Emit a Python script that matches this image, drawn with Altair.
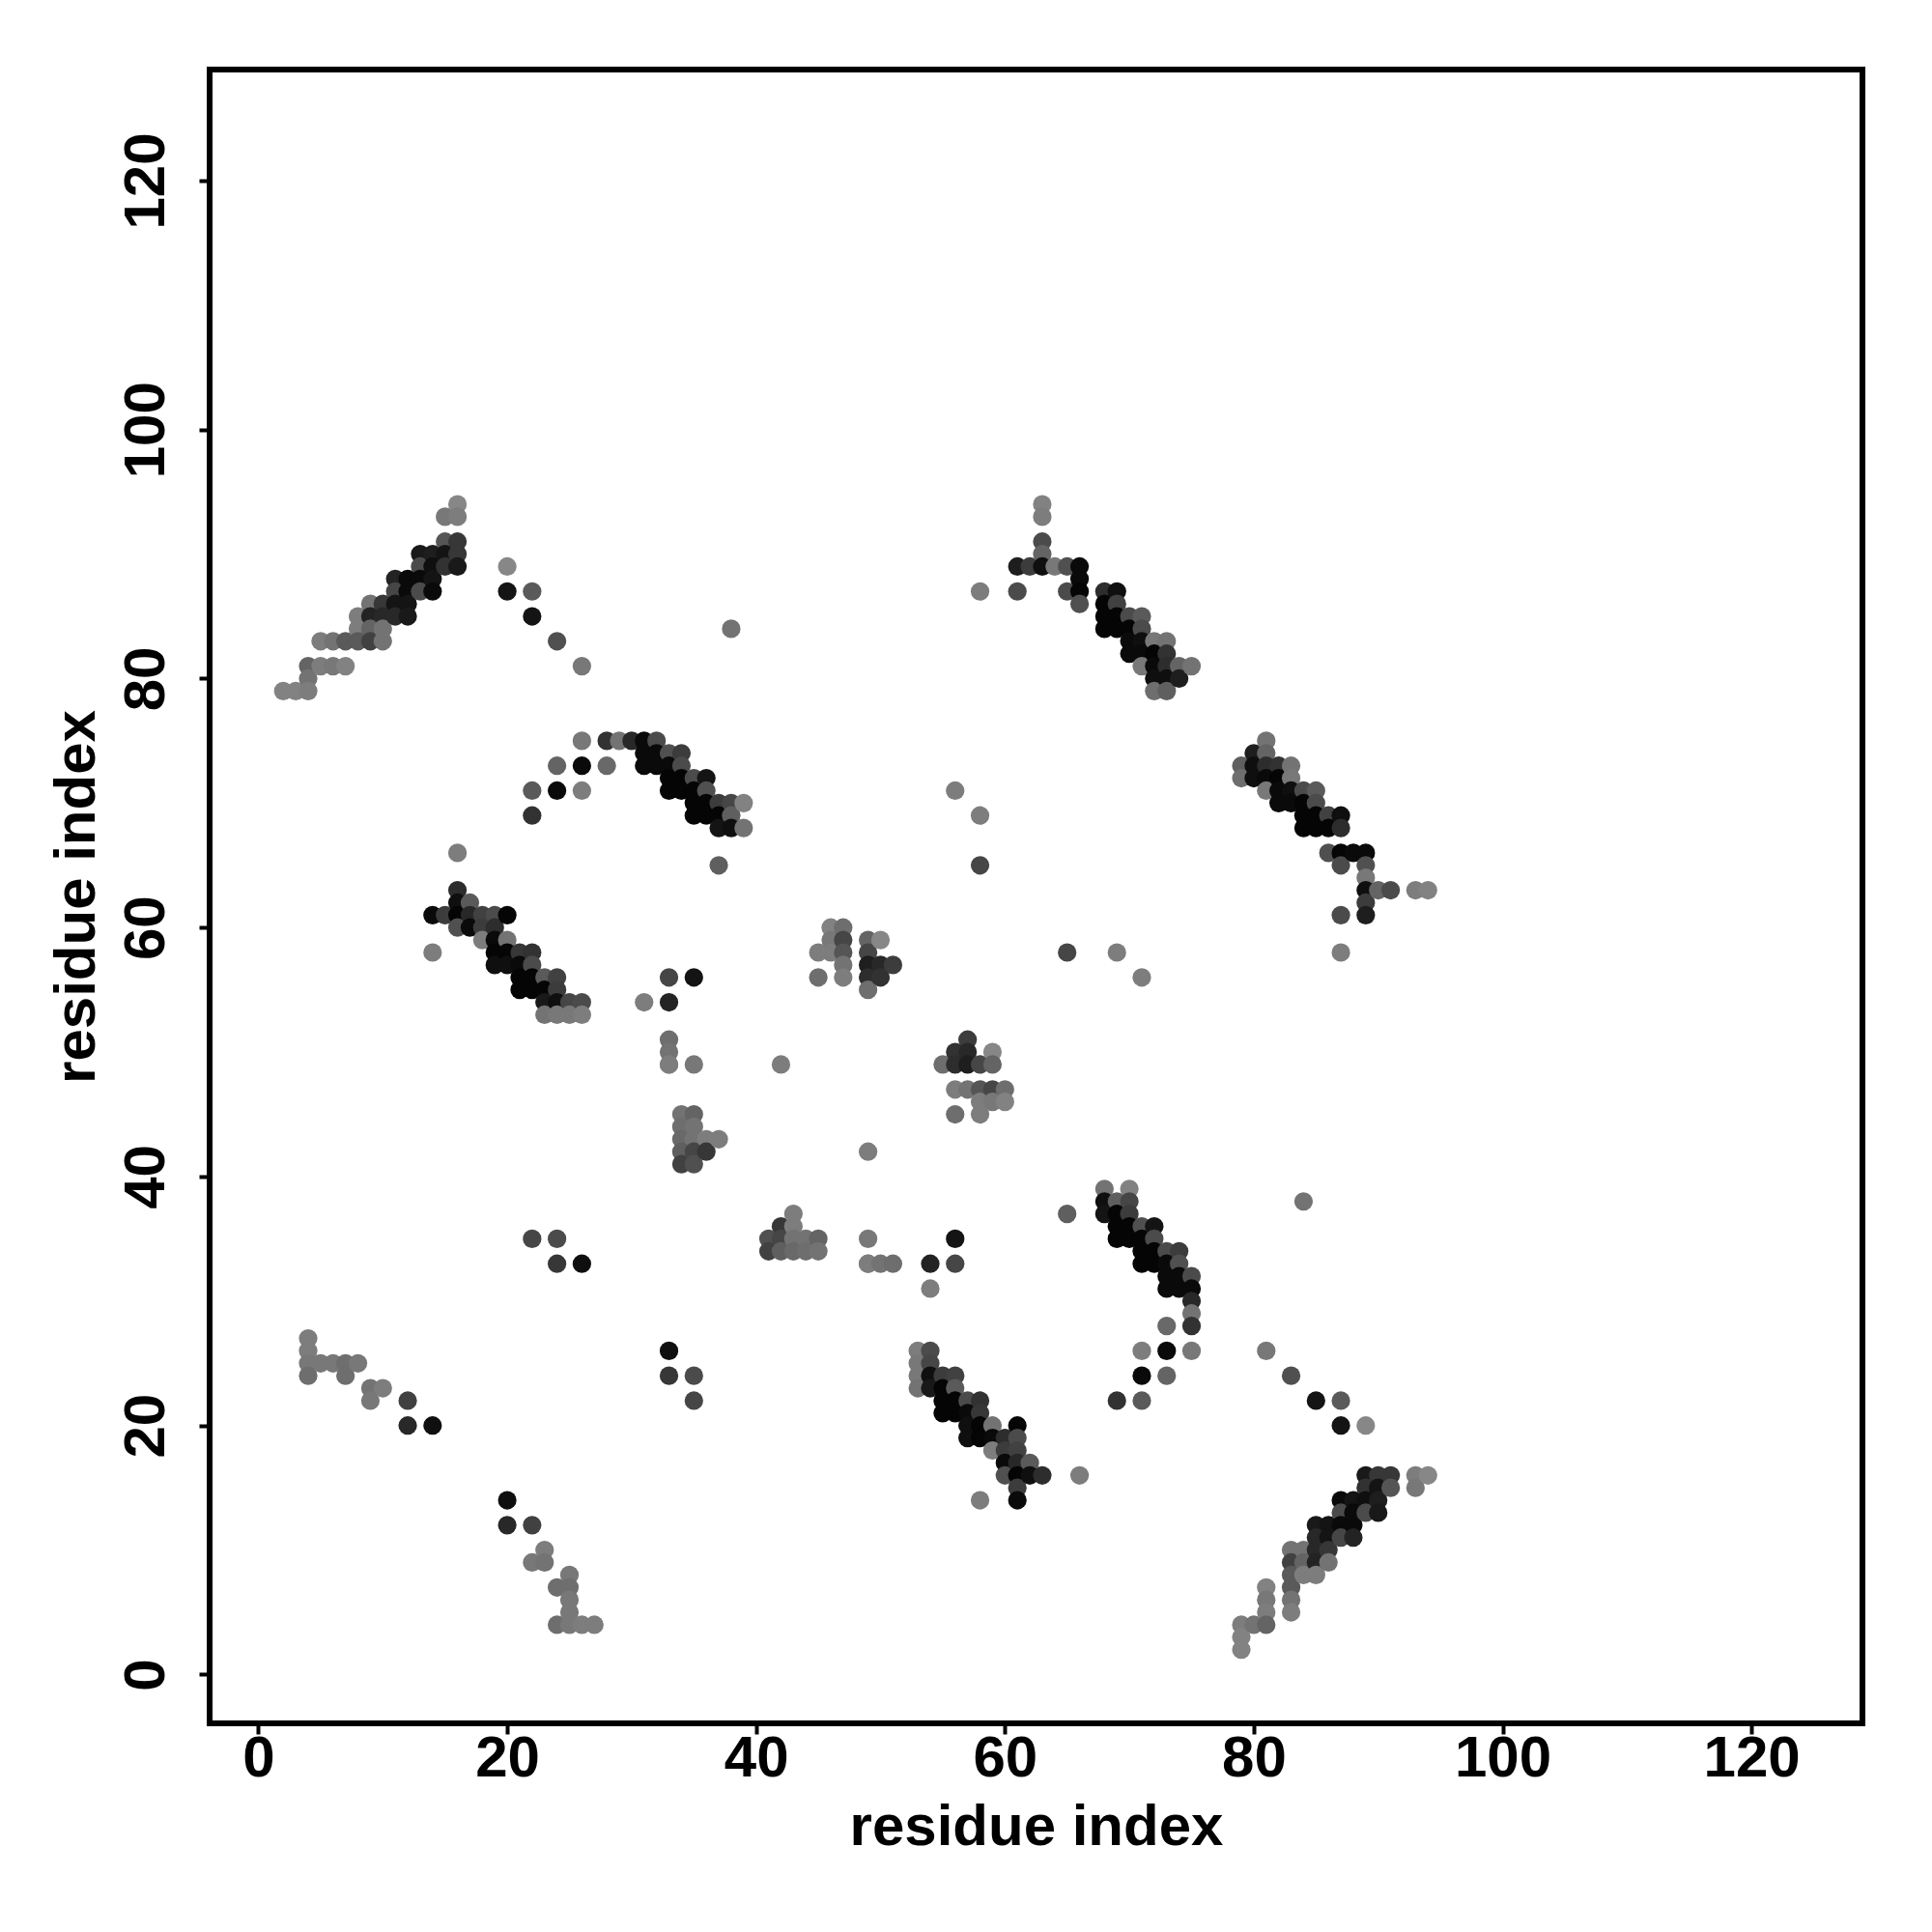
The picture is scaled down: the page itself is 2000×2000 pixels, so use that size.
import altair as alt
import pandas as pd

# Contact map: points above the diagonal (the map is symmetric), with their grey level
upper_x = [16, 15, 16, 15, 16,
           13, 14, 15, 16, 13, 14, 15, 16, 11, 12, 13, 14, 11, 12, 13, 14,
           9, 10, 11, 12, 8, 9, 10, 11, 12, 8, 9, 10,
           5, 6, 7, 8, 9, 10, 4, 5, 6, 7, 4, 2, 3, 4,
           20, 20, 22, 22, 24, 26,
           26, 28, 29, 30, 31, 32, 31, 32, 33, 34,
           24, 26, 28, 31, 32, 33, 34, 33, 34, 35, 36,
           22, 24, 26, 33, 34, 35, 36, 35, 36, 37, 38, 39,
           22, 35, 36, 37, 38, 37, 38, 39, 37,
           16, 16, 16, 17, 14, 15, 16, 17, 18, 19, 20, 16, 17, 18, 19,
           18, 19, 20, 14, 19, 20, 21, 22, 19, 20, 21, 22,
           21, 22, 23, 24, 21, 22, 23, 24, 23, 24, 25, 26, 23, 24, 25, 26,
           31, 33, 33, 35, 33, 33, 33, 33, 35, 42,
           46, 47, 46, 47, 49, 50, 45, 46, 47, 49, 47, 49, 50, 51, 45, 47, 49, 50, 49,
           34, 35, 34, 35, 34, 35, 36, 37, 34, 35, 36, 34, 35,
           63, 63, 63, 63, 61, 62, 63, 64, 65, 66, 66, 61, 65, 66, 66,
           68, 69, 68, 69, 68, 69, 70, 71, 68, 69, 70, 71,
           70, 71, 72, 73, 70, 71, 72, 73, 71, 72, 73, 74, 75,
           72, 73, 74, 72, 73,
           58, 56, 58, 58, 38, 22, 24, 24, 26,
           4, 4, 4, 4, 5, 6, 7, 7, 8, 9, 9, 10, 12, 12, 14]
upper_y = [94, 93, 93, 91, 91,
           90, 90, 90, 90, 89, 89, 89, 89, 88, 88, 88, 88, 87, 87, 87, 87,
           86, 86, 86, 86, 85, 85, 85, 85, 85, 84, 84, 84,
           83, 83, 83, 83, 83, 83, 81, 81, 81, 81, 80, 79, 79, 79,
           89, 87, 87, 85, 83, 81,
           75, 75, 75, 75, 75, 75, 74, 74, 74, 74,
           73, 73, 73, 73, 73, 73, 73, 72, 72, 72, 72,
           71, 71, 71, 71, 71, 71, 71, 70, 70, 70, 70, 70,
           69, 69, 69, 69, 69, 68, 68, 68, 65,
           66, 63, 62, 62, 61, 61, 61, 61, 61, 61, 61, 60, 60, 60, 60,
           59, 59, 59, 58, 58, 58, 58, 58, 57, 57, 57, 57,
           56, 56, 56, 56, 55, 55, 55, 55, 54, 54, 54, 54, 53, 53, 53, 53,
           54, 56, 54, 56, 51, 50, 49, 49, 49, 49,
           60, 60, 59, 59, 59, 59, 58, 58, 58, 58, 57, 57, 57, 57, 56, 56, 56, 56, 55,
           45, 45, 44, 44, 43, 43, 43, 43, 42, 42, 42, 41, 41,
           94, 93, 91, 90, 89, 89, 89, 89, 89, 89, 88, 87, 87, 87, 86,
           87, 87, 86, 86, 85, 85, 85, 85, 84, 84, 84, 84,
           83, 83, 83, 83, 82, 82, 82, 82, 81, 81, 81, 81, 81,
           80, 80, 80, 79, 79,
           87, 71, 69, 65, 84, 35, 35, 33, 33,
           27, 26, 25, 24, 25, 25, 25, 24, 25, 23, 22, 23, 22, 20, 20]
upper_gray = [135, 120, 125, 85, 55,
              25, 30, 20, 55, 75, 15, 50, 25, 35, 10, 10, 20, 70, 10, 75, 10,
              115, 55, 20, 20, 125, 35, 40, 40, 25, 125, 100, 115,
              125, 115, 90, 90, 65, 115, 100, 125, 120, 130, 115, 130, 130, 125,
              135, 20, 90, 20, 80, 120,
              120, 50, 115, 40, 10, 75, 10, 10, 80, 60,
              100, 10, 105, 10, 10, 10, 75, 5, 5, 75, 20,
              90, 10, 125, 5, 5, 5, 80, 5, 5, 60, 70, 130,
              50, 5, 5, 5, 95, 20, 15, 115, 95,
              125, 45, 15, 90, 10, 60, 5, 40, 65, 75, 5, 80, 10, 60, 45,
              125, 10, 115, 125, 5, 5, 55, 50, 15, 15, 10, 75,
              5, 5, 90, 65, 5, 5, 5, 60, 25, 15, 70, 75, 115, 120, 120, 125,
              125, 70, 35, 20, 110, 115, 125, 125, 120, 125,
              130, 110, 120, 70, 100, 135, 125, 125, 85, 70, 115, 30, 40, 60, 110, 125, 45, 50, 110,
              115, 100, 110, 115, 105, 115, 125, 125, 95, 70, 55, 65, 80,
              130, 125, 75, 100, 30, 60, 15, 120, 80, 10, 10, 75, 75, 5, 80,
              45, 15, 5, 65, 5, 5, 75, 90, 5, 5, 5, 75,
              10, 15, 120, 115, 10, 10, 5, 50, 120, 10, 45, 100, 115,
              15, 15, 30, 110, 95,
              125, 125, 125, 70, 115, 70, 75, 55, 15,
              125, 125, 120, 110, 120, 120, 110, 110, 120, 115, 120, 125, 65, 40, 15]
tick_values = [0, 20, 40, 60, 80, 100, 120]
axis_title = "residue index"

assert len(upper_x) == len(upper_y) == len(upper_gray)

# The map holds each contact twice: (a, b) and (b, a)
df = pd.DataFrame({
    "a": upper_x + upper_y,
    "b": upper_y + upper_x,
    "g": upper_gray + upper_gray,
})
df["c"] = ["#{0:02x}{0:02x}{0:02x}".format(v) for v in df["g"]]
df = df.sort_values(["a", "b"], ascending=[True, False])

FONT = "Liberation Sans"
common_axis = dict(
    values=tick_values, grid=False, domain=False,
    tickColor="black", tickWidth=4, tickSize=11,
    labelColor="black", labelFont=FONT, labelFontSize=60, labelFontWeight="bold",
    titleColor="black", titleFont=FONT, titleFontSize=60, titleFontWeight="bold",
    labelOverlap=False, labelFlush=False, format="d",
)
dom = [-3.92, 128.92]

chart = (
    alt.Chart(df)
    .mark_circle(size=370, opacity=1)
    .encode(
        x=alt.X("a:Q", scale=alt.Scale(domain=dom, nice=False, zero=False),
                axis=alt.Axis(title=axis_title, labelPadding=-4, titlePadding=12, **common_axis)),
        y=alt.Y("b:Q", scale=alt.Scale(domain=dom, nice=False, zero=False),
                axis=alt.Axis(title=axis_title, labelAngle=270, labelAlign="center",
                              labelBaseline="bottom", labelPadding=24, titlePadding=11, **common_axis)),
        color=alt.Color("c:N", scale=None),
    )
    .properties(width=1711, height=1712, autosize="none",
                padding={"left": 209, "top": 64, "right": 60, "bottom": 210})
    .configure_view(stroke="black", strokeWidth=6)
)

chart.save("out.html", embed_options={"renderer": "svg", "actions": False})
